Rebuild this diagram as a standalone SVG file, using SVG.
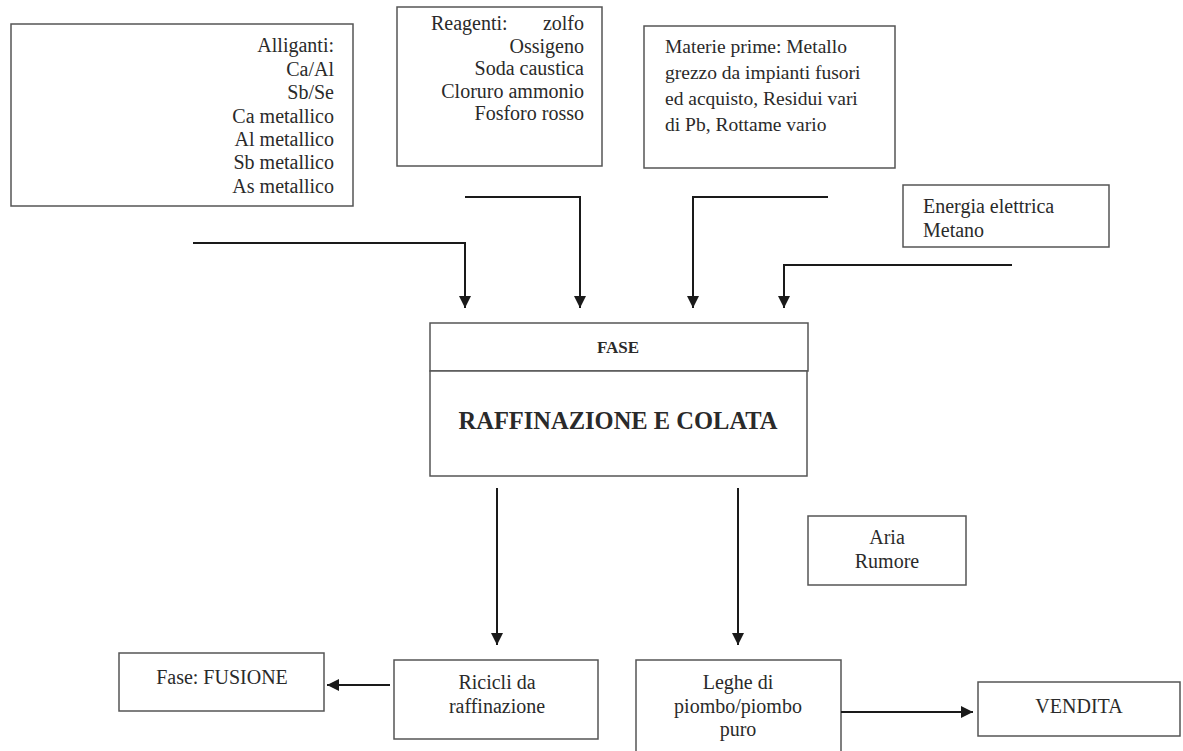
<svg xmlns="http://www.w3.org/2000/svg" width="1183" height="751" viewBox="0 0 1183 751">
<style>
  .box { fill: #ffffff; stroke: #555555; stroke-width: 1.5; }
  .t { font-size: 20px; fill: #2a2a2a; }
  .r { text-anchor: end; }
  .c { text-anchor: middle; }
  .b { font-weight: bold; }
  .conn { fill: none; stroke: #1a1a1a; stroke-width: 2; }
</style>
<defs>
  <marker id="ah" viewBox="0 0 12 12" markerWidth="12" markerHeight="12" refX="12" refY="6" orient="auto" markerUnits="userSpaceOnUse">
    <path d="M0,0 L12,6 L0,12 z" fill="#1a1a1a"/>
  </marker>
</defs>
<rect width="1183" height="751" fill="#ffffff"/>
<g font-family="Liberation Serif, Times New Roman, serif">
<g id="alliganti">
  <rect class="box" x="11" y="24" width="342" height="182"/>
  <text class="t r" x="334" y="52">Alliganti:</text>
  <text class="t r" x="334" y="76">Ca/Al</text>
  <text class="t r" x="334" y="99">Sb/Se</text>
  <text class="t r" x="334" y="123">Ca metallico</text>
  <text class="t r" x="334" y="146">Al metallico</text>
  <text class="t r" x="334" y="169">Sb metallico</text>
  <text class="t r" x="334" y="193">As metallico</text>
</g>

<g id="reagenti">
  <rect class="box" x="397" y="7" width="205" height="159"/>
  <text class="t" x="431" y="30">Reagenti:</text>
  <text class="t r" x="584" y="30">zolfo</text>
  <text class="t r" x="584" y="53">Ossigeno</text>
  <text class="t r" x="584" y="75">Soda caustica</text>
  <text class="t r" x="584" y="98">Cloruro ammonio</text>
  <text class="t r" x="584" y="120">Fosforo rosso</text>
</g>

<g id="materie">
  <rect class="box" x="644" y="26" width="251" height="142"/>
  <text class="t" x="665" y="53" style="font-size:19.5px">Materie prime: Metallo</text>
  <text class="t" x="665" y="79" style="font-size:19.5px">grezzo da impianti fusori</text>
  <text class="t" x="665" y="105" style="font-size:19.5px">ed acquisto, Residui vari</text>
  <text class="t" x="665" y="131" style="font-size:19.5px">di Pb, Rottame vario</text>
</g>

<g id="energia">
  <rect class="box" x="903" y="185" width="206" height="62"/>
  <text class="t" x="923" y="213">Energia elettrica</text>
  <text class="t" x="923" y="237">Metano</text>
</g>

<g id="fase">
  <rect class="box" x="430" y="323" width="378" height="48"/>
  <rect class="box" x="430" y="371" width="377" height="105"/>
  <text class="t c b" x="618" y="353" style="font-size:17px">FASE</text>
  <text class="t c b" x="618" y="429" style="font-size:24.5px">RAFFINAZIONE E COLATA</text>
</g>

<g id="aria">
  <rect class="box" x="808" y="516" width="158" height="69"/>
  <text class="t c" x="887" y="544">Aria</text>
  <text class="t c" x="887" y="568">Rumore</text>
</g>

<g id="fusione">
  <rect class="box" x="119" y="653" width="205" height="58"/>
  <text class="t c" x="222" y="684">Fase: FUSIONE</text>
</g>

<g id="ricicli">
  <rect class="box" x="394" y="660" width="204" height="79"/>
  <text class="t c" x="497" y="689">Ricicli da</text>
  <text class="t c" x="497" y="713">raffinazione</text>
</g>

<g id="leghe">
  <rect class="box" x="636" y="660" width="205" height="94"/>
  <text class="t c" x="738" y="689">Leghe di</text>
  <text class="t c" x="738" y="713">piombo/piombo</text>
  <text class="t c" x="738" y="736">puro</text>
</g>

<g id="vendita">
  <rect class="box" x="978" y="682" width="202" height="54"/>
  <text class="t c" x="1079" y="713">VENDITA</text>
</g>
</g>
<g id="connectors">
  <polyline class="conn" points="193,243 465,243 465,308" marker-end="url(#ah)"/>
  <polyline class="conn" points="465,197 580,197 580,308" marker-end="url(#ah)"/>
  <polyline class="conn" points="828,197 693,197 693,308" marker-end="url(#ah)"/>
  <polyline class="conn" points="1012,265 784,265 784,308" marker-end="url(#ah)"/>
  <line class="conn" x1="497" y1="488" x2="497" y2="645" stroke-width="1.6" marker-end="url(#ah)"/>
  <line class="conn" x1="738" y1="488" x2="738" y2="645" stroke-width="2.4" marker-end="url(#ah)"/>
  <line class="conn" x1="390" y1="685" x2="327" y2="685" marker-end="url(#ah)"/>
  <line class="conn" x1="841" y1="712" x2="973" y2="712" marker-end="url(#ah)"/>
</g>
</svg>
